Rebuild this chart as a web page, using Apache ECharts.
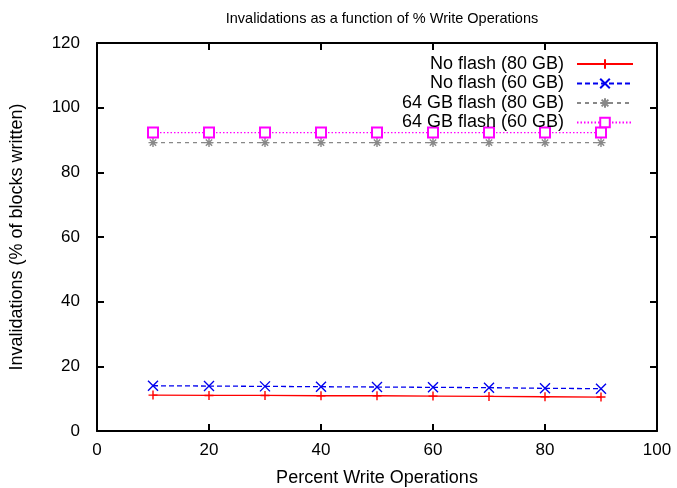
<!DOCTYPE html>
<html>
<head>
<meta charset="utf-8">
<script src="https://cdn.jsdelivr.net/npm/echarts@6/dist/echarts.min.js"></script>
<style>
  html, body { margin: 0; padding: 0; background: #fff; }
  #chart { width: 677px; height: 488px; }
</style>
</head>
<body>
<div id="chart"></div>
<script>
// Percent of operations that are writes
const writePercent = [10, 20, 30, 40, 50, 60, 70, 80, 90];

// Invalidations (% of blocks written) per configuration
const noFlash80 = [11.1, 11.0, 11.0, 10.9, 10.9, 10.8, 10.7, 10.6, 10.5];
const noFlash60 = [14.0, 13.9, 13.8, 13.7, 13.6, 13.5, 13.4, 13.2, 13.1];
const flash64_80 = [89.2, 89.2, 89.2, 89.2, 89.2, 89.2, 89.2, 89.2, 89.2];
const flash64_60 = [92.3, 92.3, 92.3, 92.3, 92.3, 92.3, 92.3, 92.3, 92.3];

const seriesNames = ['No flash (80 GB)', 'No flash (60 GB)', '64 GB flash (80 GB)', '64 GB flash (60 GB)'];

const FONT = 'Liberation Sans';

const pairs = ys => writePercent.map((x, i) => [x, ys[i]]);

const PLUS = 'path://M5,0L5,10M0,5L10,5';
const CROSS = 'path://M0,0L10,10M0,10L10,0';
const STAR = 'path://M0,5L10,5M5,0L5,10M1.5,1.5L8.5,8.5M1.5,8.5L8.5,1.5';

function makeSeries(name, data, color, symbol, size, lineType) {
  return {
    name, type: 'line', data: pairs(data),
    symbol, symbolSize: size, showSymbol: true,
    lineStyle: { color, width: 1.3, type: lineType },
    itemStyle: { color, borderColor: color, borderWidth: 1.4 },
    emphasis: { disabled: true },
    animation: false
  };
}

const chart = echarts.init(document.getElementById('chart'));

const axisCommon = {
  axisLine: { show: true, onZero: false, lineStyle: { color: '#000', width: 2 } },
  axisTick: { show: true, inside: true, length: 7, lineStyle: { color: '#000', width: 2 } },
  splitLine: { show: false }
};

chart.setOption({
  backgroundColor: '#fff',
  animation: false,
  title: {
    text: 'Invalidations as a function of % Write Operations',
    left: 377, top: 6, textAlign: 'center',
    textStyle: { fontFamily: FONT, fontSize: 14.5, fontWeight: 'normal', color: '#000' }
  },
  grid: { left: 97, right: 20, top: 43, bottom: 57, outerBoundsMode: 'none', containLabel: false },
  legend: {
    orient: 'vertical', right: 38, top: 50, align: 'right',
    itemWidth: 56, itemHeight: 12, itemGap: 1.5,
    textStyle: { fontFamily: FONT, fontSize: 18, lineHeight: 16, color: '#000', padding: [0, 8, 0, 0] },
    data: seriesNames,
    selectedMode: false
  },
  xAxis: [
    Object.assign({
      type: 'value', min: 0, max: 100, interval: 20, position: 'bottom',
      name: 'Percent Write Operations', nameLocation: 'middle', nameGap: 38,
      nameTextStyle: { fontFamily: FONT, fontSize: 18, color: '#000' },
      axisLabel: { fontFamily: FONT, fontSize: 17, color: '#000', margin: 11 }
    }, axisCommon),
    Object.assign({
      type: 'value', min: 0, max: 100, interval: 20, position: 'top',
      axisLabel: { show: false }
    }, axisCommon)
  ],
  yAxis: [
    Object.assign({
      type: 'value', min: 0, max: 120, interval: 20, position: 'left',
      name: 'Invalidations (% of blocks written)', nameLocation: 'middle', nameGap: 71,
      nameTextStyle: { fontFamily: FONT, fontSize: 18, color: '#000' },
      axisLabel: { fontFamily: FONT, fontSize: 17, color: '#000', margin: 17 }
    }, axisCommon),
    Object.assign({
      type: 'value', min: 0, max: 120, interval: 20, position: 'right',
      axisLabel: { show: false }
    }, axisCommon)
  ],
  series: [
    makeSeries(seriesNames[0], noFlash80, '#ff0000', PLUS, 9, 'solid'),
    makeSeries(seriesNames[1], noFlash60, '#0000ee', CROSS, 10, [5, 3]),
    makeSeries(seriesNames[2], flash64_80, '#888888', STAR, 9, [4, 4]),
    makeSeries(seriesNames[3], flash64_60, '#ff00ff', 'emptyRect', 10, [1.5, 2])
  ]
});
</script>
</body>
</html>
